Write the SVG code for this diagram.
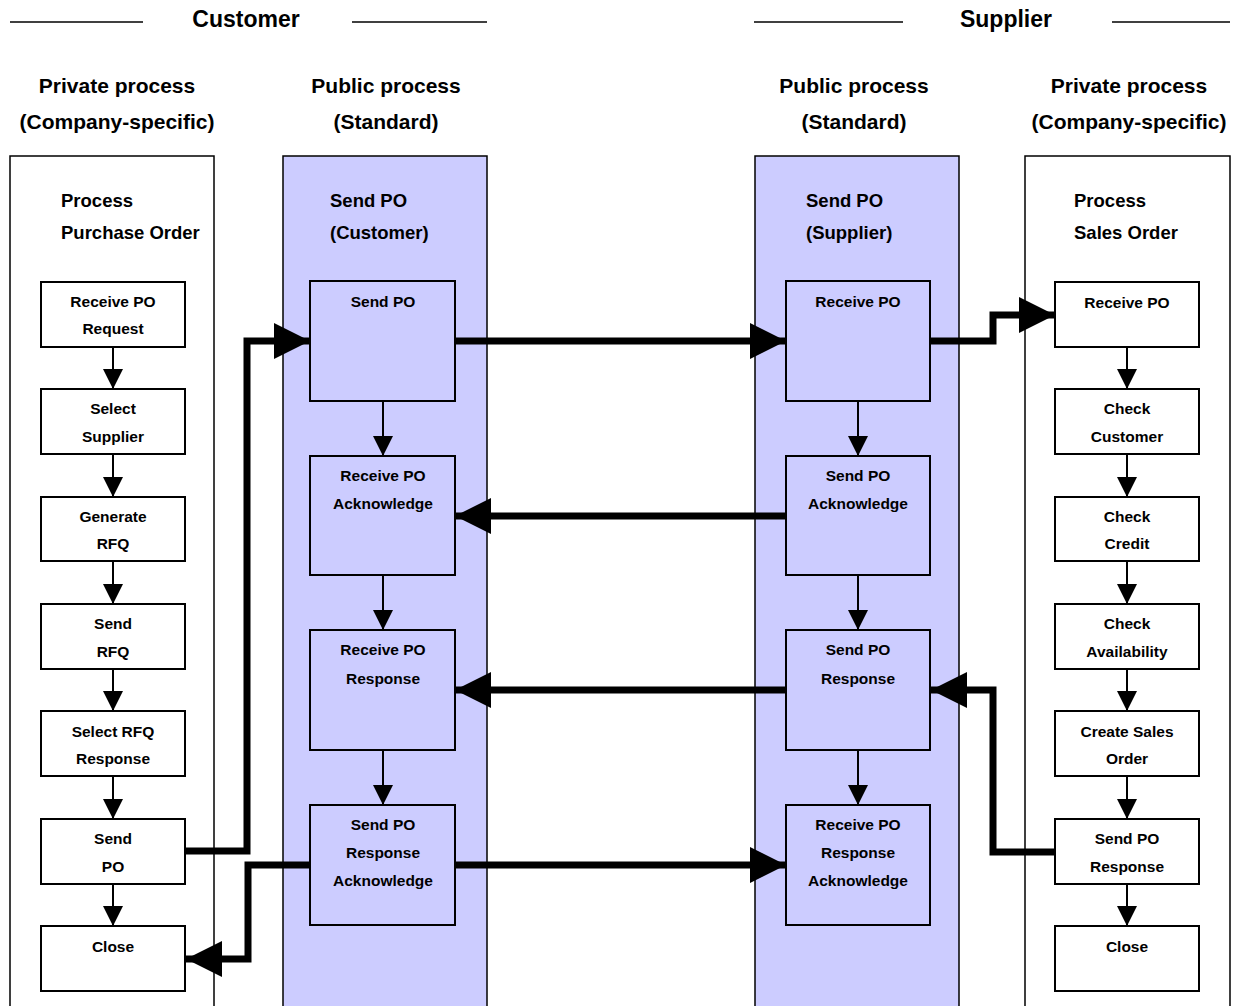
<svg xmlns="http://www.w3.org/2000/svg" width="1234" height="1006" viewBox="0 0 1234 1006">
<style>
text{font-family:"Liberation Sans",Arial,sans-serif;font-weight:bold;fill:#000}
.h1{font-size:23px;text-anchor:middle}
.h2{font-size:21px;text-anchor:middle}
.lt{font-size:18.5px}
.bt{font-size:15.5px;text-anchor:middle}
.lane{fill:#fff;stroke:#000;stroke-width:1.5}
.pub{fill:#ccccff;stroke:#000;stroke-width:1.5}
.box{fill:#fff;stroke:#000;stroke-width:2}
.pbox{fill:#ccccff;stroke:#000;stroke-width:2}
.thin{stroke:#000;stroke-width:2;fill:none}
.thick{stroke:#000;stroke-width:7;fill:none}
.hl{stroke:#000;stroke-width:1.5}
</style>
<defs>
<marker id="sa" markerUnits="userSpaceOnUse" markerWidth="20" markerHeight="20" viewBox="0 0 20 20" refX="20" refY="10" orient="auto"><path d="M0,0 L20,10 L0,20 Z" fill="#000"/></marker>
<marker id="la" markerUnits="userSpaceOnUse" markerWidth="36" markerHeight="36" viewBox="0 0 36 36" refX="36" refY="18" orient="auto"><path d="M0,0 L36,18 L0,36 Z" fill="#000"/></marker>
</defs>
<rect width="1234" height="1006" fill="#fff"/>
<g id="headers">
<line class="hl" x1="10" y1="22" x2="143" y2="22"/>
<text class="h1" x="246" y="27">Customer</text>
<line class="hl" x1="352" y1="22" x2="487" y2="22"/>
<line class="hl" x1="754" y1="22" x2="903" y2="22"/>
<text class="h1" x="1006" y="27">Supplier</text>
<line class="hl" x1="1112" y1="22" x2="1230" y2="22"/>
<text class="h2" x="117" y="93">Private process</text>
<text class="h2" x="117" y="129">(Company-specific)</text>
<text class="h2" x="386" y="93">Public process</text>
<text class="h2" x="386" y="129">(Standard)</text>
<text class="h2" x="854" y="93">Public process</text>
<text class="h2" x="854" y="129">(Standard)</text>
<text class="h2" x="1129" y="93">Private process</text>
<text class="h2" x="1129" y="129">(Company-specific)</text>
</g>
<g id="lanes">
<g id="lane-cust-private"><rect class="lane" x="10" y="156" width="204" height="860"/><text class="lt" x="61" y="207">Process</text><text class="lt" x="61" y="239">Purchase Order</text></g>
<g id="lane-cust-public"><rect class="pub" x="283" y="156" width="204" height="860"/><text class="lt" x="330" y="207">Send PO</text><text class="lt" x="330" y="239">(Customer)</text></g>
<g id="lane-supp-public"><rect class="pub" x="755" y="156" width="204" height="860"/><text class="lt" x="806" y="207">Send PO</text><text class="lt" x="806" y="239">(Supplier)</text></g>
<g id="lane-supp-private"><rect class="lane" x="1025" y="156" width="205" height="860"/><text class="lt" x="1074" y="207">Process</text><text class="lt" x="1074" y="239">Sales Order</text></g>
</g>
<g id="connectors">
<line class="thin" x1="113" y1="347" x2="113" y2="389" marker-end="url(#sa)"/>
<line class="thin" x1="113" y1="454" x2="113" y2="497" marker-end="url(#sa)"/>
<line class="thin" x1="113" y1="561" x2="113" y2="604" marker-end="url(#sa)"/>
<line class="thin" x1="113" y1="669" x2="113" y2="711" marker-end="url(#sa)"/>
<line class="thin" x1="113" y1="776" x2="113" y2="819" marker-end="url(#sa)"/>
<line class="thin" x1="113" y1="884" x2="113" y2="926" marker-end="url(#sa)"/>
<line class="thin" x1="1127" y1="347" x2="1127" y2="389" marker-end="url(#sa)"/>
<line class="thin" x1="1127" y1="454" x2="1127" y2="497" marker-end="url(#sa)"/>
<line class="thin" x1="1127" y1="561" x2="1127" y2="604" marker-end="url(#sa)"/>
<line class="thin" x1="1127" y1="669" x2="1127" y2="711" marker-end="url(#sa)"/>
<line class="thin" x1="1127" y1="776" x2="1127" y2="819" marker-end="url(#sa)"/>
<line class="thin" x1="1127" y1="884" x2="1127" y2="926" marker-end="url(#sa)"/>
<line class="thin" x1="383" y1="401" x2="383" y2="456" marker-end="url(#sa)"/>
<line class="thin" x1="383" y1="575" x2="383" y2="630" marker-end="url(#sa)"/>
<line class="thin" x1="383" y1="750" x2="383" y2="805" marker-end="url(#sa)"/>
<line class="thin" x1="858" y1="401" x2="858" y2="456" marker-end="url(#sa)"/>
<line class="thin" x1="858" y1="575" x2="858" y2="630" marker-end="url(#sa)"/>
<line class="thin" x1="858" y1="750" x2="858" y2="805" marker-end="url(#sa)"/>
<polyline class="thick" points="185,851 247,851 247,341 310,341" marker-end="url(#la)"/>
<line class="thick" x1="455" y1="341" x2="786" y2="341" marker-end="url(#la)"/>
<polyline class="thick" points="930,341 993,341 993,315 1055,315" marker-end="url(#la)"/>
<line class="thick" x1="786" y1="516" x2="455" y2="516" marker-end="url(#la)"/>
<line class="thick" x1="786" y1="690" x2="455" y2="690" marker-end="url(#la)"/>
<polyline class="thick" points="1055,852 993,852 993,690 931,690" marker-end="url(#la)"/>
<line class="thick" x1="455" y1="865" x2="786" y2="865" marker-end="url(#la)"/>
<polyline class="thick" points="310,865 248,865 248,959 186,959" marker-end="url(#la)"/>
</g>
<g id="cust-private-nodes">
<g id="c1"><rect class="box" x="41" y="282" width="144" height="65"/><text class="bt" x="113" y="307">Receive PO</text><text class="bt" x="113" y="334">Request</text></g>
<g id="c2"><rect class="box" x="41" y="389" width="144" height="65"/><text class="bt" x="113" y="414">Select</text><text class="bt" x="113" y="442">Supplier</text></g>
<g id="c3"><rect class="box" x="41" y="497" width="144" height="64"/><text class="bt" x="113" y="522">Generate</text><text class="bt" x="113" y="549">RFQ</text></g>
<g id="c4"><rect class="box" x="41" y="604" width="144" height="65"/><text class="bt" x="113" y="629">Send</text><text class="bt" x="113" y="657">RFQ</text></g>
<g id="c5"><rect class="box" x="41" y="711" width="144" height="65"/><text class="bt" x="113" y="737">Select RFQ</text><text class="bt" x="113" y="764">Response</text></g>
<g id="c6"><rect class="box" x="41" y="819" width="144" height="65"/><text class="bt" x="113" y="844">Send</text><text class="bt" x="113" y="872">PO</text></g>
<g id="c7"><rect class="box" x="41" y="926" width="144" height="65"/><text class="bt" x="113" y="952">Close</text></g>
</g>
<g id="cust-public-nodes">
<g id="cp1"><rect class="pbox" x="310" y="281" width="145" height="120"/><text class="bt" x="383" y="307">Send PO</text></g>
<g id="cp2"><rect class="pbox" x="310" y="456" width="145" height="119"/><text class="bt" x="383" y="481">Receive PO</text><text class="bt" x="383" y="509">Acknowledge</text></g>
<g id="cp3"><rect class="pbox" x="310" y="630" width="145" height="120"/><text class="bt" x="383" y="655">Receive PO</text><text class="bt" x="383" y="684">Response</text></g>
<g id="cp4"><rect class="pbox" x="310" y="805" width="145" height="120"/><text class="bt" x="383" y="830">Send PO</text><text class="bt" x="383" y="858">Response</text><text class="bt" x="383" y="886">Acknowledge</text></g>
</g>
<g id="supp-public-nodes">
<g id="sp1"><rect class="pbox" x="786" y="281" width="144" height="120"/><text class="bt" x="858" y="307">Receive PO</text></g>
<g id="sp2"><rect class="pbox" x="786" y="456" width="144" height="119"/><text class="bt" x="858" y="481">Send PO</text><text class="bt" x="858" y="509">Acknowledge</text></g>
<g id="sp3"><rect class="pbox" x="786" y="630" width="144" height="120"/><text class="bt" x="858" y="655">Send PO</text><text class="bt" x="858" y="684">Response</text></g>
<g id="sp4"><rect class="pbox" x="786" y="805" width="144" height="120"/><text class="bt" x="858" y="830">Receive PO</text><text class="bt" x="858" y="858">Response</text><text class="bt" x="858" y="886">Acknowledge</text></g>
</g>
<g id="supp-private-nodes">
<g id="s1"><rect class="box" x="1055" y="282" width="144" height="65"/><text class="bt" x="1127" y="308">Receive PO</text></g>
<g id="s2"><rect class="box" x="1055" y="389" width="144" height="65"/><text class="bt" x="1127" y="414">Check</text><text class="bt" x="1127" y="442">Customer</text></g>
<g id="s3"><rect class="box" x="1055" y="497" width="144" height="64"/><text class="bt" x="1127" y="522">Check</text><text class="bt" x="1127" y="549">Credit</text></g>
<g id="s4"><rect class="box" x="1055" y="604" width="144" height="65"/><text class="bt" x="1127" y="629">Check</text><text class="bt" x="1127" y="657">Availability</text></g>
<g id="s5"><rect class="box" x="1055" y="711" width="144" height="65"/><text class="bt" x="1127" y="737">Create Sales</text><text class="bt" x="1127" y="764">Order</text></g>
<g id="s6"><rect class="box" x="1055" y="819" width="144" height="65"/><text class="bt" x="1127" y="844">Send PO</text><text class="bt" x="1127" y="872">Response</text></g>
<g id="s7"><rect class="box" x="1055" y="926" width="144" height="65"/><text class="bt" x="1127" y="952">Close</text></g>
</g>
</svg>
